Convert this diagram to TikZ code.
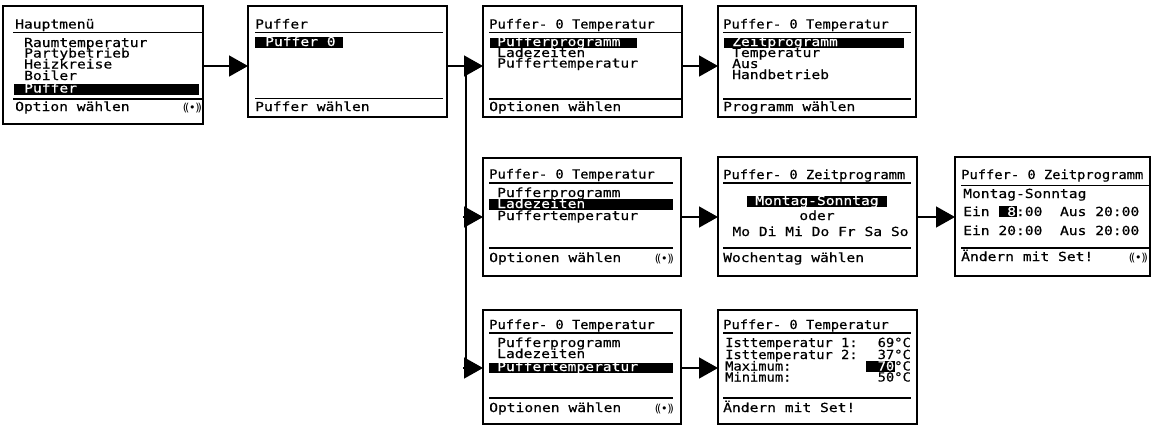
\documentclass[tikz,border=0pt]{standalone}
\usepackage{fontspec}
\usetikzlibrary{arrows.meta}
\newfontfamily\lcd[FakeStretch=1.17,FakeBold=0.5]{DejaVu Sans Mono}
\newfontfamily\lcdt[FakeStretch=1.10,FakeBold=0.5]{DejaVu Sans Mono}
\newfontfamily\symf{DejaVu Sans}
\newcommand{\rollsym}{{\symf\fontsize{11}{11}\selectfont (\kern-2.2pt(\kern-0.2pt•\kern-0.2pt)\kern-2.2pt)}}
\tikzset{
  screen/.style={draw, line width=1.8pt, inner sep=0pt, outer sep=0pt},
  txt/.style={anchor=base west, inner sep=0pt, font=\lcd\fontsize{12.5}{12.5}\selectfont},
  ctxt/.style={txt, anchor=base},
  ttl/.style={anchor=base west, inner sep=0pt, font=\lcdt\fontsize{12.5}{12.5}\selectfont},
  rttl/.style={ttl, anchor=base east},
  inv/.style={txt, text=white},
  cinv/.style={ctxt, text=white},
  bar/.style={fill=black},
  sepline/.style={line width=1.1pt},
  wire/.style={line width=1.5pt},
  conn/.style={line width=1.5pt, -{Triangle[length=19pt,width=21pt]}},
  sym/.style={anchor=base east, inner sep=0pt}
}
\begin{document}
\begin{tikzpicture}[x=1pt, y=-1pt]
\useasboundingbox (0,0) rectangle (1152,426);

% ---------- screens ----------
\node[screen, minimum width=200pt, minimum height=118pt] (b1) at (103,65) {};
\node[screen, minimum width=199pt, minimum height=111pt] (b2) at (347.5,61.5) {};
\node[screen, minimum width=199pt, minimum height=111pt] (b3) at (582.5,61.5) {};
\node[screen, minimum width=198pt, minimum height=111pt] (b4) at (817,61.5) {};
\node[screen, minimum width=198pt, minimum height=118pt] (b5) at (582,217) {};
\node[screen, minimum width=199pt, minimum height=119pt] (b6) at (817.5,216.5) {};
\node[screen, minimum width=195pt, minimum height=119pt] (b7) at (1052.5,216.5) {};
\node[screen, minimum width=198pt, minimum height=114pt] (b8) at (582,367) {};
\node[screen, minimum width=199pt, minimum height=114pt] (b9) at (817.5,367) {};

% ---------- screen 1 ----------
\node[txt] (t1a) at (15,28.5) {Hauptmenü};
\draw[sepline] (13,32.5) -- (202,32.5);
\node[txt] (t1b) at (24,47) {Raumtemperatur};
\node[txt] (t1c) at (24,57.5) {Partybetrieb};
\node[txt] (t1d) at (24,68.5) {Heizkreise};
\node[txt] (t1e) at (24,80) {Boiler};
\fill[bar] (14,84) rectangle (199,95);
\node[inv] (t1f) at (24,92.5) {Puffer};
\draw[sepline] (13,99) -- (202,99);
\node[txt] (t1g) at (15,111) {Option wählen};
\node[sym] (s1) at (202,111) {\rollsym};

% ---------- screen 2 ----------
\node[txt] (t2a) at (255,28.5) {Puffer};
\draw[sepline] (255,32.5) -- (443,32.5);
\fill[bar] (255,37) rectangle (343,48);
\node[inv] (t2b) at (265,46) {Puffer 0};
\draw[sepline] (255,98.5) -- (443,98.5);
\node[txt] (t2c) at (255,111) {Puffer wählen};

% ---------- screen 3 ----------
\node[ttl] (t3a) at (489,28.5) {Puffer- 0 Temperatur};
\draw[sepline] (489,32.5) -- (681,32.5);
\fill[bar] (490,38) rectangle (637,48);
\node[inv] (t3b) at (497,46) {Pufferprogramm};
\node[txt] (t3c) at (497,57) {Ladezeiten};
\node[txt] (t3d) at (497,67.5) {Puffertemperatur};
\draw[sepline] (489,99) -- (681,99);
\node[txt] (t3e) at (489,111) {Optionen wählen};

% ---------- screen 4 ----------
\node[ttl] (t4a) at (723,28.5) {Puffer- 0 Temperatur};
\draw[sepline] (723,32.5) -- (911,32.5);
\fill[bar] (724,38) rectangle (904,48);
\node[inv] (t4b) at (732,46) {Zeitprogramm};
\node[txt] (t4c) at (732,57) {Temperatur};
\node[txt] (t4d) at (732,68) {Aus};
\node[txt] (t4e) at (732,79) {Handbetrieb};
\draw[sepline] (723,99) -- (911,99);
\node[txt] (t4f) at (723,111) {Programm wählen};

% ---------- screen 5 ----------
\node[ttl] (t5a) at (489,178.5) {Puffer- 0 Temperatur};
\draw[sepline] (489,183) -- (673,183);
\node[txt] (t5b) at (497,197) {Pufferprogramm};
\fill[bar] (489,199) rectangle (673,210);
\node[inv] (t5c) at (497,208) {Ladezeiten};
\node[txt] (t5d) at (497,220) {Puffertemperatur};
\draw[sepline] (489,248) -- (673,248);
\node[txt] (t5e) at (489,262) {Optionen wählen};
\node[sym] (s5) at (674,262) {\rollsym};

% ---------- screen 6 ----------
\node[ttl] (t6a) at (723,179) {Puffer- 0 Zeitprogramm};
\draw[sepline] (723,183) -- (911,183);
\fill[bar] (747,196) rectangle (887,206.5);
\node[cinv] (t6b) at (817,205) {Montag-Sonntag};
\node[ctxt] (t6c) at (817,220) {oder};
\node[ctxt] (t6d) at (820.5,236) {Mo Di Mi Do Fr Sa So};
\draw[sepline] (723,248) -- (911,248);
\node[txt] (t6e) at (723,262) {Wochentag wählen};

% ---------- screen 7 ----------
\node[ttl] (t7a) at (961,179) {Puffer- 0 Zeitprogramm};
\draw[sepline] (961,185.5) -- (1150,185.5);
\node[txt] (t7b) at (963,198) {Montag-Sonntag};
\fill[bar] (999,206) rectangle (1017,217);
\node[txt] (t7c) at (963,216) {Ein~\textcolor{white}{~8}:00~~Aus~20:00};
\node[txt] (t7d) at (963,235) {Ein~20:00~~Aus~20:00};
\draw[sepline] (961,248) -- (1150,248);
\node[txt] (t7e) at (961,261) {Ändern mit Set!};
\node[sym] (s7) at (1148,261) {\rollsym};

% ---------- screen 8 ----------
\node[ttl] (t8a) at (489,329) {Puffer- 0 Temperatur};
\draw[sepline] (489,333) -- (673,333);
\node[txt] (t8b) at (497,347) {Pufferprogramm};
\node[txt] (t8c) at (497,358) {Ladezeiten};
\fill[bar] (489,363) rectangle (673,373);
\node[inv] (t8d) at (497,371) {Puffertemperatur};
\draw[sepline] (489,398) -- (673,398);
\node[txt] (t8e) at (489,412) {Optionen wählen};
\node[sym] (s8) at (674,412) {\rollsym};

% ---------- screen 9 ----------
\node[ttl] (t9a) at (723,329) {Puffer- 0 Temperatur};
\draw[sepline] (723,333) -- (911,333);
\node[ttl] (t9b) at (725,347) {Isttemperatur 1:};
\node[rttl] (t9c) at (911,347) {69°C};
\node[ttl] (t9d) at (725,359) {Isttemperatur 2:};
\node[rttl] (t9e) at (911,359) {37°C};
\node[ttl] (t9f) at (725,370.5) {Maximum:};
\fill[bar] (866,361) rectangle (895,372);
\node[rttl] (t9g) at (911,370.5) {\textcolor{white}{70}°C};
\node[ttl] (t9h) at (725,381.5) {Minimum:};
\node[rttl] (t9i) at (911,381.5) {50°C};
\draw[sepline] (723,398) -- (911,398);
\node[txt] (t9j) at (723,412) {Ändern mit Set!};

% ---------- connectors ----------
\coordinate (ytop) at (0,66);
\coordinate (ymid) at (0,217);
\coordinate (ybot) at (0,368);
\coordinate (j0) at (466,66);
\coordinate (j1) at (466,217);
\coordinate (j2) at (466,368);
\coordinate (k1) at (463,217);
\coordinate (k2) at (463,368);

\draw[conn] (b1.east |- ytop) -- (b2.west |- ytop);
\draw[conn] (b2.east |- ytop) -- (b3.west |- ytop);
\draw[wire] (j0) -- (j2);
\draw[conn] (k1) -- (b5.west |- ymid);
\draw[conn] (k2) -- (b8.west |- ybot);
\draw[conn] (b3.east |- ytop) -- (b4.west |- ytop);
\draw[conn] (b5.east |- ymid) -- (b6.west |- ymid);
\draw[conn] (b6.east |- ymid) -- (b7.west |- ymid);
\draw[conn] (b8.east |- ybot) -- (b9.west |- ybot);
\end{tikzpicture}
\end{document}
